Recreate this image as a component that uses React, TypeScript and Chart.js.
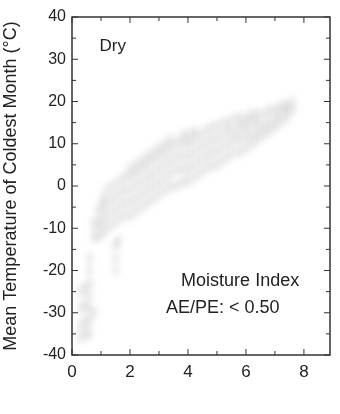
import React, { useEffect, useRef } from "react";
import { Chart, registerables } from "chart.js";

Chart.register(...registerables);

// Moisture index (x) columns and the temperatures (y, °C) found in each column
const columnX = [
  0.3, 0.45, 0.6, 0.75, 0.9, 1.05, 1.2, 1.4, 1.5, 1.6, 1.8, 2.0, 2.2, 2.4, 2.6, 2.8, 3.0, 3.2,
  3.4, 3.6, 3.8, 4.0, 4.2, 4.4, 4.6, 4.8, 5.0, 5.2, 5.4, 5.6, 5.8, 6.0, 6.2, 6.4, 6.6, 6.8,
  7.0, 7.2, 7.4, 7.6,
];
const columnY = [
  [-25, -29, -33, -36],
  [-24, -28, -32, -35],
  [-17, -20, -23, -26, -29, -32, -35],
  [-12, -9, -30],
  [-12, -9, -6],
  [-11, -8, -5, -3],
  [-10, -7, -4, -1],
  [-9, -6, -3, 0],
  [-14, -17, -20],
  [-8, -5, -2, 1, -13],
  [-7, -4, -1, 2],
  [-7, -4, -1, 2, 4],
  [-6, -3, 0, 3, 5],
  [-5, -2, 1, 4, 6],
  [-4, -1, 2, 5, 7],
  [-3, 0, 3, 6, 8],
  [-2, 1, 4, 7, 9],
  [-1, 2, 5, 8, 10],
  [0, 3, 6, 9, 11],
  [0, 4, 7, 10],
  [1, 4, 7, 10, 12],
  [1, 4, 7, 10, 12],
  [2, 5, 8, 11, 13],
  [3, 6, 9, 12],
  [4, 7, 10, 13],
  [5, 8, 11, 14],
  [5, 8, 11, 14],
  [6, 9, 12, 15],
  [7, 10, 13, 15],
  [8, 11, 13, 16],
  [8, 11, 14, 16],
  [9, 12, 14, 16],
  [10, 12, 15, 17],
  [11, 13, 15, 17],
  [12, 14, 17],
  [13, 15, 18],
  [14, 16, 18],
  [15, 17, 19],
  [16, 18, 19],
  [18, 20],
];

const xTicks = [0, 2, 4, 6, 8];
const xMinorTicks = [0, 1, 2, 3, 4, 5, 6, 7, 8];
const yTicks = [-40, -30, -20, -10, 0, 10, 20, 30, 40];
const yMinorTicks = [-40, -35, -30, -25, -20, -15, -10, -5, 0, 5, 10, 15, 20, 25, 30, 35, 40];

const yTitle = "Mean Temperature of Coldest Month (°C)";
const notes = [
  { text: "Dry", x: 0.95, y: 33, align: "left", size: 17 },
  { text: "Moisture Index", x: 5.8, y: -22.5, align: "center", size: 18 },
  { text: "AE/PE: < 0.50", x: 5.2, y: -28.8, align: "center", size: 18 },
];

const FONT = "'Liberation Sans', Arial, Helvetica, sans-serif";
const INK = "#222";

export default function App() {
  const ref = useRef<HTMLCanvasElement>(null);

  useEffect(() => {
    document.body.style.margin = "0";
    const canvas = ref.current;
    if (!canvas) return;

    const points: { x: number; y: number }[] = [];
    columnX.forEach((x, i) => columnY[i].forEach((y) => points.push({ x, y })));

    const framePlugin = {
      id: "frame",
      beforeDatasetsDraw(chart: any) {
        chart.ctx.save();
        chart.ctx.filter = "blur(3px)";
      },
      afterDatasetsDraw(chart: any) {
        const ctx = chart.ctx;
        ctx.restore();
        const { left, right, top, bottom } = chart.chartArea;
        const xs = chart.scales.x;
        const ys = chart.scales.y;
        ctx.save();
        ctx.strokeStyle = "#333";
        ctx.lineWidth = 1.5;
        ctx.strokeRect(left, top, right - left, bottom - top);
        ctx.lineWidth = 1;
        ctx.beginPath();
        yMinorTicks.forEach((v) => {
          const p = ys.getPixelForValue(v);
          const len = v % 10 === 0 ? 6 : 4;
          ctx.moveTo(left, p);
          ctx.lineTo(left + len, p);
          ctx.moveTo(right, p);
          ctx.lineTo(right - len, p);
        });
        xMinorTicks.forEach((v) => {
          const p = xs.getPixelForValue(v);
          const len = v % 2 === 0 ? 6 : 4;
          ctx.moveTo(p, bottom);
          ctx.lineTo(p, bottom - len);
          ctx.moveTo(p, top);
          ctx.lineTo(p, top + len);
        });
        ctx.stroke();

        ctx.fillStyle = INK;
        ctx.textBaseline = "middle";
        notes.forEach((n) => {
          ctx.font = `${n.size}px ${FONT}`;
          ctx.textAlign = n.align as CanvasTextAlign;
          ctx.fillText(n.text, xs.getPixelForValue(n.x), ys.getPixelForValue(n.y));
        });
        ctx.restore();
      },
    };

    const chart = new Chart(canvas, {
      type: "scatter",
      data: {
        datasets: [
          {
            data: points,
            pointStyle: "line",
            rotation: 90,
            radius: 5,
            borderWidth: 5,
            borderColor: "rgba(110,110,110,0.2)",
            backgroundColor: "rgba(110,110,110,0.2)",
          } as any,
        ],
      },
      options: {
        responsive: false,
        animation: false,
        events: [],
        layout: { padding: { top: 17, right: 5, left: 0, bottom: 0 } },
        plugins: { legend: { display: false }, tooltip: { enabled: false } },
        scales: {
          x: {
            type: "linear",
            min: 0,
            max: 8.9,
            afterBuildTicks: (s: any) => {
              s.ticks = xTicks.map((v) => ({ value: v }));
            },
            afterFit: (s: any) => {
              s.height = 59;
            },
            ticks: { font: { size: 17, family: FONT }, color: INK, padding: 7, maxRotation: 0 },
            grid: { display: false, drawTicks: false },
            border: { display: false },
          },
          y: {
            type: "linear",
            min: -40,
            max: 40,
            afterBuildTicks: (s: any) => {
              s.ticks = yTicks.map((v) => ({ value: v }));
            },
            afterFit: (s: any) => {
              s.width = 72;
            },
            ticks: { font: { size: 16, family: FONT }, color: INK, padding: 6 },
            grid: { display: false, drawTicks: false },
            border: { display: false },
            title: {
              display: true,
              text: yTitle,
              font: { size: 18, family: FONT },
              color: INK,
              padding: 0,
            },
          },
        },
      },
      plugins: [framePlugin],
    });

    return () => chart.destroy();
  }, []);

  return (
    <div style={{ width: 340, height: 414 }}>
      <canvas ref={ref} width={340} height={414} />
    </div>
  );
}
